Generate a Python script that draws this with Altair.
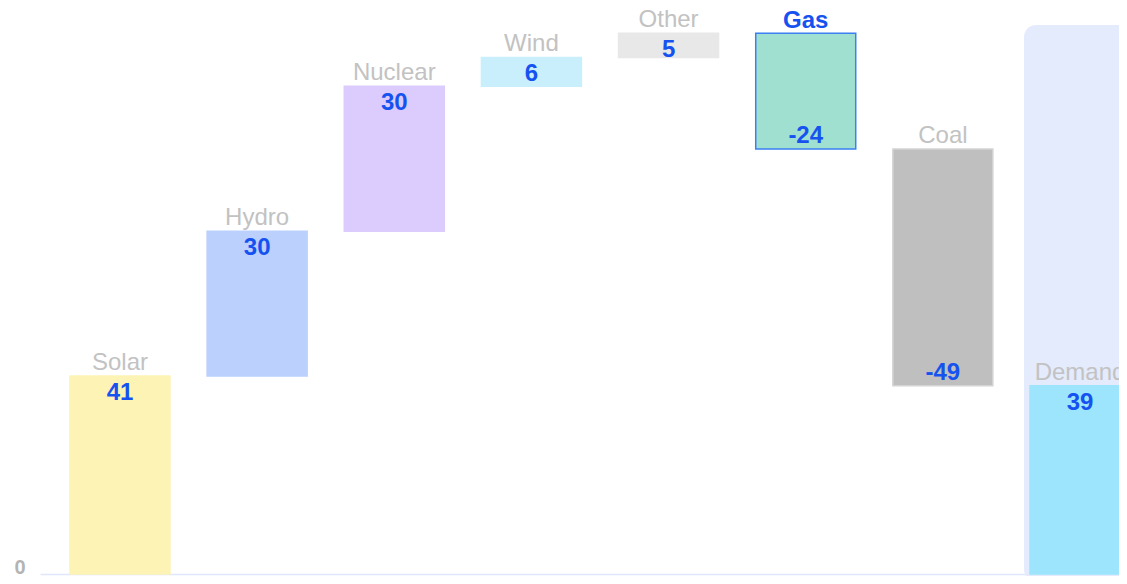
import altair as alt
import pandas as pd

categories = ["Solar", "Hydro", "Nuclear", "Wind", "Other", "Gas", "Coal", "Demand"]
values = [41, 30, 30, 6, 5, -24, -49, 39]
value_text = ["41", "30", "30", "6", "5", "-24", "-49", "39"]
is_total = [False, False, False, False, False, False, False, True]
fill_colors = ["#fdf3b5", "#bbd0fd", "#dccbfd", "#c9effc", "#e8e8e8", "#a0e0d1", "#bfbfbf", "#9ce5fc"]
stroke_colors = ["#fdf3b5", "#bbd0fd", "#dccbfd", "#c9effc", "#e8e8e8", "#3b7ff2", "#d4d4d4", "#9ce5fc"]
label_weights = ["normal"] * 5 + ["bold"] + ["normal"] * 2

# waterfall start / end
starts, ends = [], []
running = 0
for v, tot in zip(values, is_total):
    if tot:
        starts.append(0)
        ends.append(v)
    else:
        starts.append(running)
        running += v
        ends.append(running)

df = pd.DataFrame({
    "cat": categories,
    "value": values,
    "vtext": value_text,
    "start": starts,
    "end": ends,
    "top": [max(s, e) for s, e in zip(starts, ends)],
    "pos": [v >= 0 for v in values],
    "lweight": label_weights,
})

highlight = pd.DataFrame({"cat": ["Demand"], "lo": [-1.5], "hi": [113.7]})

FONT = "Liberation Sans"
BLUE = "#1652f0"
GREY = "#c2c2c2"

x = alt.X("cat:N", sort=categories,
          scale=alt.Scale(range=[0, 1120], paddingInner=0.271, paddingOuter=0.2187),
          axis=alt.Axis(title=None, labels=False, ticks=False, domain=True,
                        domainColor="#dfe7fb", domainWidth=1.5))
yscale = alt.Scale(domain=[0, 116.4], nice=False, zero=False)

bg = alt.Chart(highlight).mark_bar(size=112, cornerRadius=12, color="#e4ebfd").encode(
    x=x,
    y=alt.Y("lo:Q", scale=yscale,
            axis=alt.Axis(title=None, values=[0], grid=False, ticks=False, domain=False,
                          labelFont=FONT, labelFontSize=20, labelFontWeight="bold",
                          labelColor="#b4b4b4", labelPadding=15, labelBaseline="alphabetic",
                          labelOffset=-1)),
    y2="hi:Q",
)

bars = alt.Chart(df).mark_bar(size=100, strokeWidth=1.5).encode(
    x=x,
    y=alt.Y("start:Q", scale=yscale),
    y2="end:Q",
    color=alt.Color("cat:N", scale=alt.Scale(domain=categories, range=fill_colors), legend=None),
    stroke=alt.Stroke("cat:N", scale=alt.Scale(domain=categories, range=stroke_colors), legend=None),
)

cat_labels_normal = alt.Chart(df).transform_filter("datum.lweight == 'normal'").mark_text(
    baseline="alphabetic", dy=-6, font=FONT, fontSize=24, color=GREY
).encode(x=x, y=alt.Y("top:Q", scale=yscale), text="cat:N")

cat_labels_bold = alt.Chart(df).transform_filter("datum.lweight == 'bold'").mark_text(
    baseline="alphabetic", dy=-5, font=FONT, fontSize=24, fontWeight="bold", color=BLUE
).encode(x=x, y=alt.Y("top:Q", scale=yscale), text="cat:N")

val_pos = alt.Chart(df).transform_filter("datum.pos").mark_text(
    baseline="top", dy=5, font=FONT, fontSize=24, fontWeight="bold", color=BLUE
).encode(x=x, y=alt.Y("end:Q", scale=yscale), text="vtext:N")

val_neg = alt.Chart(df).transform_filter("!datum.pos").mark_text(
    baseline="alphabetic", dy=-6, font=FONT, fontSize=24, fontWeight="bold", color=BLUE
).encode(x=x, y=alt.Y("end:Q", scale=yscale), text="vtext:N")

chart = alt.layer(bg, bars, cat_labels_normal, cat_labels_bold, val_pos, val_neg).properties(
    width=1079, height=562,
    autosize=alt.AutoSizeParams(type="none"),
    padding={"left": 32, "top": 4, "right": 0, "bottom": 2},
).configure_view(stroke=None)

chart.save("out.html", embed_options={"renderer": "svg", "actions": False})
